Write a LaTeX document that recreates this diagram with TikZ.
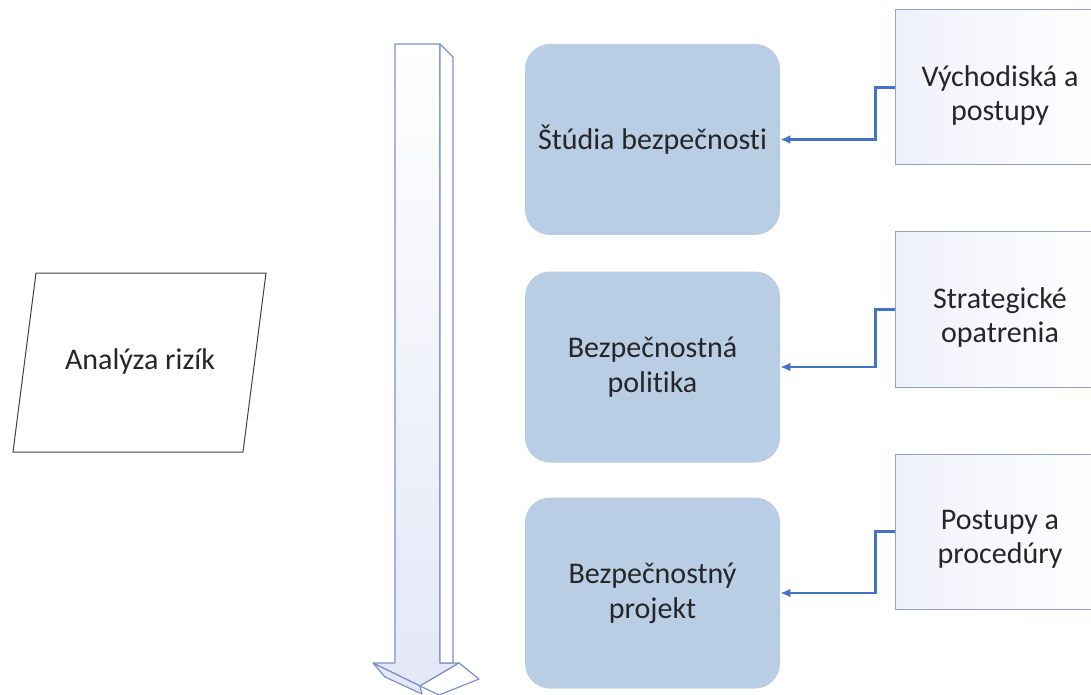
\documentclass[tikz,border=0pt]{standalone}
\usepackage{fontspec}
\setmainfont[Ligatures=NoCommon]{Carlito}
\usetikzlibrary{arrows.meta}
\definecolor{stage fill}{RGB}{185,205,229}
\definecolor{frame edge}{RGB}{143,160,210}
\definecolor{arrow edge}{RGB}{125,143,204}
\definecolor{arrow body}{RGB}{228,232,247}
\definecolor{link}{RGB}{68,114,196}
\tikzset{
  stage/.style={fill=stage fill, rounded corners=12.5pt, minimum width=127.5pt, text=black!85,
    minimum height=95.5pt, align=center, font=\fontsize{15}{17.5}\selectfont},
  source/.style={draw=frame edge, line width=0.5pt, left color=arrow body!60, right color=white,
    minimum width=105pt, minimum height=77.5pt},
  source text/.style={align=center, text=black!85, yshift=-4pt, font=\fontsize{15}{17}\selectfont},
  body/.style={draw=arrow edge, line width=0.6pt, line join=round}
  }
\tikzstyle{conn} = [draw=link, line width=1.1pt, -{Latex[length=5pt,width=4.5pt]}]

\begin{document}
\begin{tikzpicture}[x=0.5pt,y=-0.5pt]
    \useasboundingbox (0,0) rectangle (1091,695);
    \clip (0,0) rectangle (1091,695);

    % Risk analysis on the left
    \draw[line width=0.5pt, draw=black!75] (36,273) -- (266,273) -- (243,452) -- (13,452) -- cycle;
    \node[font=\fontsize{15}{18}\selectfont, text=black!85] (risk) at (140,362) {Analýza rizík};

    % The big downward arrow
    \path[body, top color=white, bottom color=arrow body]
      (395,44) -- (440,44) -- (440,663) -- (459,663) -- (420,686) -- (373,663) -- (395,663) -- cycle;
    \path[body, fill=white] (440,44) -- (453,57) -- (453,663) -- (440,663) -- cycle;
    \path[body, fill=white] (459,663) -- (479,679) -- (439,695) -- (420,686) -- cycle;
    \path[body, fill=arrow body] (373,663) -- (385,677) -- (422,694) -- (420,686) -- cycle;

    % The stages
    \foreach \y/\name/\text in {139.5/s1/{Štúdia bezpečnosti}, 367/s2/{Bezpečnostná\\politika}, 593/s3/{Bezpečnostný\\projekt}}
      \node[stage] (\name) at (652.5,\y) {\text};

    % What feeds them
    \foreach \y/\name/\text in {87.5/in1/{Východiská a\\postupy}, 309.5/in2/{Strategické\\opatrenia}, 531.5/in3/{Postupy a\\procedúry}}
      \node[source, label={[source text, name=\name-text]center:\text}] (\name) at (1000,\y) {};

    % The connections between them
    \foreach \source/\sink in {in1/s1, in2/s2, in3/s3}
      \path[conn] (\source.west) -- ++(-19,0) |- (\sink.east);
\end{tikzpicture}
\end{document}
